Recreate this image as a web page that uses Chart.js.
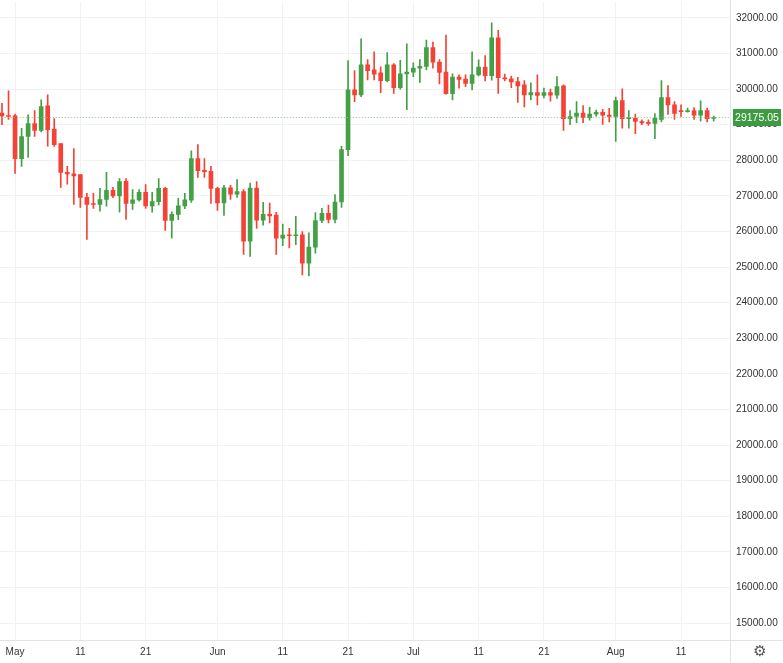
<!DOCTYPE html>
<html>
<head>
<meta charset="utf-8">
<script src="https://cdn.jsdelivr.net/npm/chart.js@4"></script>
<style>
  html, body { margin: 0; padding: 0; background: #fff; }
  #wrap { width: 783px; height: 663px; overflow: hidden; position: relative; }
  #priceChart { position: absolute; left: -4px; top: -10px; }
</style>
</head>
<body>
<div id="wrap"><canvas id="priceChart" width="787" height="673"></canvas></div>
<script>
// daily candles, Apr 29 .. Aug 16 (two blank days padded on the right)
const startDate = new Date(2023, 3, 29);
const openVals = [29330,29250,
  29250,28050,28670,29030,28840,29530,28880,28470,27660,27620,27600,26960,26780,26760,26900,27160,27000,27410,26790,26890,27100,26720,26840,27210,26310,26480,26720,26880,28050,27720,27690,
  27210,26800,27230,27050,27120,25730,27220,26320,26480,26460,25810,25900,25880,25910,25110,25560,26310,26510,26340,26830,28300,29980,29840,30680,30540,30460,30240,30680,30040,30430,
  30480,30590,30640,31170,30760,30480,29870,30340,30280,30160,30400,30620,30380,31440,30320,30290,30210,30120,29840,29900,29820,29900,29830,30090,29170,29230,29330,29200,29300,29350,29270,
  29230,29680,29170,29190,29090,29060,29040,29150,29760,29560,29390,29370,29400,29270,29400,29175];
const highVals = [29600,29950,
  29300,28900,29280,29400,29700,29840,29170,28470,27830,28330,27600,27070,27070,27210,27660,27240,27490,27490,27180,27180,27320,27100,27490,27240,26550,26930,27070,28270,28440,28050,27830,
  27250,27300,27300,27460,27180,27360,27400,26820,26800,26540,26210,26090,26430,26000,25960,26530,26650,26740,27040,28390,30800,30520,31410,30830,31050,30630,31030,30720,30810,31270,
  30740,30830,31380,31320,30830,31520,30430,30400,30400,31050,30820,30940,31860,31650,30420,30370,30330,30240,30180,30400,30030,30000,30350,30120,29400,29650,29540,29490,29410,29430,29460,
  29780,30010,29400,29300,29140,29140,29310,30240,30100,29650,29560,29470,29480,29670,29470,29240];
const lowVals = [29000,29150,
  27630,27830,28080,28670,28800,28400,28390,27240,27330,26760,26680,25780,26650,26570,26710,26950,26540,26340,26620,26850,26650,26540,26750,26030,25810,26330,26640,26820,27520,27520,26790,
  26590,26450,26900,26960,25360,25300,26090,26180,26240,25360,25600,25540,25630,24780,24750,25390,26250,26240,26240,26680,28130,29650,29790,30260,30260,29900,30200,29880,30000,29420,
  30350,30190,30550,30590,30150,29860,29700,30030,30070,29980,30370,30230,30250,29880,30230,30040,29630,29500,29700,29560,29750,29660,29740,28840,29000,29060,29060,29130,29240,29010,29080,
  28530,28900,28900,28750,29000,28980,28610,29080,29290,29150,29230,29350,29150,29100,29080,29100];
const closeVals = [29250,29230,
  28050,28670,29030,28840,29510,28860,28440,27660,27620,27560,26960,26760,26760,26900,27160,27000,27400,26790,26890,27100,26720,26840,27210,26310,26480,26720,26890,28050,27710,27680,27210,
  26800,27230,27050,27120,25730,27220,26320,26480,26440,25810,25900,25880,25910,25110,25560,26310,26510,26340,26830,28300,29980,29840,30680,30520,30420,30240,30680,30040,30430,30480,
  30590,30640,31170,30760,30470,29870,30340,30270,30160,30400,30620,30380,31440,30320,30290,30200,30090,29840,29900,29820,29900,29830,30070,29170,29230,29330,29200,29300,29350,29270,29230,
  29680,29170,29190,29090,29050,29040,29180,29760,29560,29320,29370,29400,29270,29400,29170,29175];
const yTicks = [15000,16000,17000,18000,19000,20000,21000,22000,23000,24000,25000,26000,27000,28000,29000,30000,31000,32000];
const lastPrice = 29175.05;
const monthNames = ['Jan','Feb','Mar','Apr','May','Jun','Jul','Aug','Sep','Oct','Nov','Dec'];

const UP = '#43a047', DOWN = '#f44336';
const padDays = 2;
const labels = [];
for (let i = 0; i < openVals.length + padDays; i++) {
  const d = new Date(startDate);
  d.setDate(d.getDate() + i);
  const day = d.getDate();
  labels.push(day === 1 ? monthNames[d.getMonth()] : (day === 11 || day === 21 ? String(day) : ''));
}
const bodies = openVals.map((o, i) => [o, closeVals[i]]);
const wicks = lowVals.map((l, i) => [l, highVals[i]]);
const colors = openVals.map((o, i) => closeVals[i] >= o ? UP : DOWN);

const overlay = {
  id: 'overlay',
  afterDatasetsDraw(chart) {
    const { ctx, chartArea, scales } = chart;
    const y = Math.round(scales.y.getPixelForValue(lastPrice)) - 1;
    ctx.save();
    ctx.strokeStyle = '#8fbf8f';
    ctx.lineWidth = 1;
    ctx.setLineDash([1, 2]);
    ctx.beginPath();
    ctx.moveTo(chartArea.left, y + 0.5);
    ctx.lineTo(chartArea.right, y + 0.5);
    ctx.stroke();
    ctx.setLineDash([]);
    // right axis border and bottom border
    ctx.strokeStyle = '#e0e3eb';
    ctx.beginPath();
    ctx.moveTo(chartArea.right + 0.5, 0);
    ctx.lineTo(chartArea.right + 0.5, chart.height);
    ctx.moveTo(0, chartArea.bottom + 0.5);
    ctx.lineTo(chart.width, chartArea.bottom + 0.5);
    ctx.stroke();
    // price label
    ctx.fillStyle = '#3d9b41';
    ctx.fillRect(chartArea.right + 3, y - 8, 48, 17);
    ctx.fillStyle = '#fff';
    ctx.font = '10.5px "Liberation Sans", Arial';
    ctx.textBaseline = 'middle';
    ctx.textAlign = 'center';
    ctx.fillText(lastPrice.toFixed(2), chartArea.right + 27, y + 1);
    ctx.fillStyle = '#555';
    ctx.font = '15px "DejaVu Sans"';
    ctx.fillText('\u2699', chartArea.right + 30, chartArea.bottom + 12);
    ctx.restore();
  }
};

new Chart(document.getElementById('priceChart'), {
  type: 'bar',
  data: {
    labels: labels,
    datasets: [
      { data: wicks, backgroundColor: colors, barThickness: 1, grouped: false, order: 2 },
      { data: bodies, backgroundColor: colors, barThickness: 4, minBarLength: 1, grouped: false, order: 1 }
    ]
  },
  options: {
    responsive: false,
    animation: false,
    plugins: { legend: { display: false }, tooltip: { enabled: false } },
    scales: {
      x: {
        grid: {
          offset: false,
          color: ctx => (ctx.tick && labels[ctx.index] !== '') ? '#f2f2f2' : 'rgba(0,0,0,0)',
          drawTicks: false
        },
        border: { display: false },
        ticks: {
          autoSkip: false, maxRotation: 0, padding: 6,
          color: '#333', font: { size: 10, family: '"Liberation Sans", Arial' },
          callback: (v, i) => labels[i]
        },
        afterFit: s => { s.height = 23; }
      },
      y: {
        position: 'right',
        min: 14524, max: 32448,
        afterBuildTicks: s => { s.ticks = yTicks.map(v => ({ value: v })); },
        grid: { color: '#f2f2f2', drawTicks: false },
        border: { display: false },
        ticks: {
          padding: 6, color: '#333', font: { size: 10, family: '"Liberation Sans", Arial' },
          callback: v => v.toFixed(2)
        },
        afterFit: s => { s.width = 53; }
      }
    }
  },
  plugins: [overlay]
});
</script>
</body>
</html>
